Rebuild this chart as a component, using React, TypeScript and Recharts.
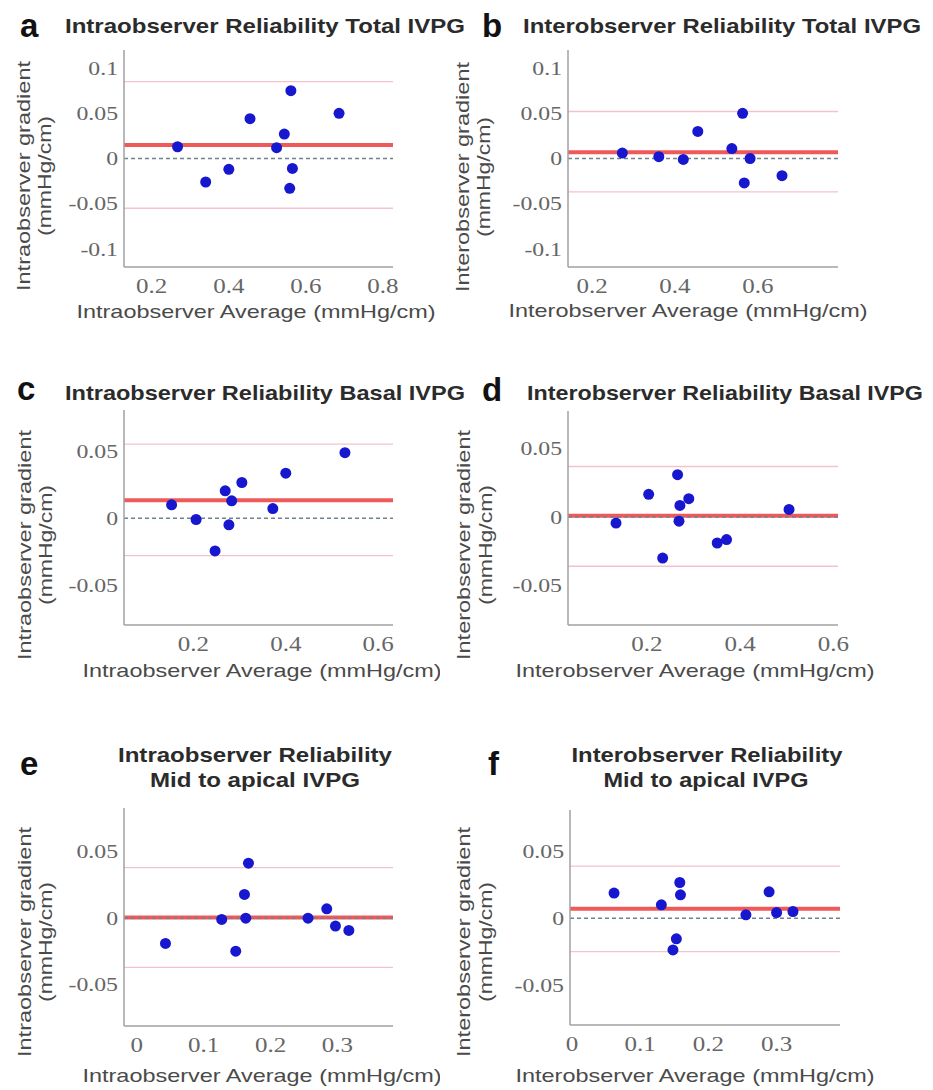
import { ReferenceLine, Scatter, ScatterChart, XAxis, YAxis } from "recharts";

// Bland-Altman panels: average (x) vs difference (y)
const aAvg = [0.267, 0.34, 0.4, 0.455, 0.524, 0.544, 0.561, 0.565, 0.558, 0.686];
const aDiff = [0.013, -0.026, -0.012, 0.044, 0.012, 0.027, 0.075, -0.011, -0.033, 0.05];
const bAvg = [0.273, 0.361, 0.42, 0.455, 0.537, 0.563, 0.581, 0.567, 0.658];
const bDiff = [0.006, 0.002, -0.001, 0.03, 0.011, 0.05, 0.0, -0.027, -0.019];
const cAvg = [0.153, 0.206, 0.247, 0.269, 0.283, 0.277, 0.305, 0.372, 0.4, 0.528];
const cDiff = [0.01, -0.001, -0.0245, 0.0205, 0.013, -0.005, 0.0267, 0.0072, 0.0337, 0.049];
const dAvg = [0.134, 0.204, 0.234, 0.266, 0.271, 0.29, 0.269, 0.351, 0.371, 0.505];
const dDiff = [-0.0044, 0.0166, -0.03, 0.031, 0.0085, 0.0134, -0.003, -0.019, -0.0165, 0.0056];
const eAvg = [0.043, 0.127, 0.148, 0.161, 0.167, 0.163, 0.256, 0.284, 0.297, 0.317];
const eDiff = [-0.019, -0.001, -0.0248, 0.0178, 0.0413, 0, 0, 0.007, -0.006, -0.0092];
const fAvg = [0.0616, 0.131, 0.158, 0.159, 0.153, 0.148, 0.255, 0.289, 0.3, 0.324];
const fDiff = [0.0188, 0.01, 0.0267, 0.0175, -0.0155, -0.0238, 0.0025, 0.0197, 0.0042, 0.005];

// lower limit, mean difference, upper limit
const aBands = [-0.055, 0.015, 0.085];
const bBands = [-0.037, 0.007, 0.052];
const cBands = [-0.028, 0.0135, 0.0555];
const dBands = [-0.036, 0.001, 0.037];
const eBands = [-0.037, 0.0005, 0.038];
const fBands = [-0.025, 0.007, 0.039];

const yTicksWide = [-0.1, -0.05, 0, 0.05, 0.1];
const yTicksNarrow = [-0.05, 0, 0.05];
const xTicksA = [0.2, 0.4, 0.6, 0.8];
const xTicksB = [0.2, 0.4, 0.6];
const xTicksMid = [0, 0.1, 0.2, 0.3];

const intraX = "Intraobserver Average (mmHg/cm)";
const interX = "Interobserver Average (mmHg/cm)";
const intraY = "Intraobserver gradient";
const interY = "Interobserver gradient";
const unitY = "(mmHg/cm)";

type Panel = {
  letter: string;
  title: string[];
  avg: number[];
  diff: number[];
  bands: number[];
  xTicks: number[];
  yTicks: number[];
  xDomain: [number, number];
  yDomain: [number, number];
  xLabel: string;
  yLabel: string;
  // layout (page px)
  left: number;
  top: number;
  w: number;
  h: number;
  x0: number;
  x1: number;
  y0: number;
  y1: number;
  xLabelCx: number;
  xLabelBase: number;
  yLabelCy: number;
  yBase1: number;
  yBase2: number;
  letterX: number;
  letterBase: number;
  titleX: number[];
  titleW: number[];
  titleBase: number[];
  titleAnchor: "start" | "middle";
};

const panels: Panel[] = [
  {
    letter: "a", title: ["Intraobserver Reliability Total IVPG"],
    avg: aAvg, diff: aDiff, bands: aBands, xTicks: xTicksA, yTicks: yTicksWide,
    xDomain: [0.128, 0.826], yDomain: [-0.12, 0.12], xLabel: intraX, yLabel: intraY,
    left: 0, top: 0, w: 440, h: 330, x0: 124, x1: 393, y0: 50, y1: 267,
    xLabelCx: 256, xLabelBase: 318, yLabelCy: 176, yBase1: 30, yBase2: 51,
    letterX: 20, letterBase: 37, titleX: [65], titleW: [400], titleBase: [33], titleAnchor: "start",
  },
  {
    letter: "b", title: ["Interobserver Reliability Total IVPG"],
    avg: bAvg, diff: bDiff, bands: bBands, xTicks: xTicksB, yTicks: yTicksWide,
    xDomain: [0.142, 0.793], yDomain: [-0.12, 0.12], xLabel: interX, yLabel: interY,
    left: 440, top: 0, w: 493, h: 330, x0: 568, x1: 838, y0: 50, y1: 267,
    xLabelCx: 688, xLabelBase: 317, yLabelCy: 177, yBase1: 469, yBase2: 490,
    letterX: 482, letterBase: 37, titleX: [523], titleW: [398], titleBase: [33], titleAnchor: "start",
  },
  {
    letter: "c", title: ["Intraobserver Reliability Basal IVPG"],
    avg: cAvg, diff: cDiff, bands: cBands, xTicks: xTicksB, yTicks: yTicksNarrow,
    xDomain: [0.05, 0.632], yDomain: [-0.08, 0.081], xLabel: intraX, yLabel: intraY,
    left: 0, top: 340, w: 440, h: 350, x0: 124, x1: 393, y0: 410, y1: 625,
    xLabelCx: 262, xLabelBase: 677, yLabelCy: 545, yBase1: 31, yBase2: 52,
    letterX: 17, letterBase: 400, titleX: [65], titleW: [400], titleBase: [400], titleAnchor: "start",
  },
  {
    letter: "d", title: ["Interobserver Reliability Basal IVPG"],
    avg: dAvg, diff: dDiff, bands: dBands, xTicks: xTicksB, yTicks: yTicksNarrow,
    xDomain: [0.031, 0.61], yDomain: [-0.079, 0.0776], xLabel: interX, yLabel: interY,
    left: 440, top: 340, w: 493, h: 350, x0: 568, x1: 838, y0: 411, y1: 625,
    xLabelCx: 695, xLabelBase: 677, yLabelCy: 545, yBase1: 470, yBase2: 492,
    letterX: 482, letterBase: 401, titleX: [527], titleW: [396], titleBase: [400], titleAnchor: "start",
  },
  {
    letter: "e", title: ["Intraobserver Reliability", "Mid to apical  IVPG"],
    avg: eAvg, diff: eDiff, bands: eBands, xTicks: xTicksMid, yTicks: yTicksNarrow,
    xDomain: [-0.019, 0.383], yDomain: [-0.081, 0.0827], xLabel: intraX, yLabel: intraY,
    left: 0, top: 700, w: 440, h: 390, x0: 124, x1: 393, y0: 808, y1: 1026,
    xLabelCx: 262, xLabelBase: 1082, yLabelCy: 942, yBase1: 31, yBase2: 52,
    letterX: 20, letterBase: 775, titleX: [255, 255], titleW: [274, 210], titleBase: [762, 787], titleAnchor: "middle",
  },
  {
    letter: "f", title: ["Interobserver Reliability", "Mid to apical IVPG"],
    avg: fAvg, diff: fDiff, bands: fBands, xTicks: xTicksMid, yTicks: yTicksNarrow,
    xDomain: [-0.003, 0.393], yDomain: [-0.08, 0.081], xLabel: interX, yLabel: interY,
    left: 440, top: 700, w: 493, h: 390, x0: 570, x1: 840, y0: 810, y1: 1025,
    xLabelCx: 695, xLabelBase: 1082, yLabelCy: 942, yBase1: 470, yBase2: 492,
    letterX: 488, letterBase: 775, titleX: [707, 706], titleW: [271, 205], titleBase: [762, 787], titleAnchor: "middle",
  },
];

const Y_AXIS_W = 70;
const X_AXIS_H = 30;
const STRETCH = 1.25;

function serifWidth(s: string) {
  let w = 0;
  for (const ch of s) w += ch === "." ? 0.25 : ch === "-" ? 0.333 : 0.5;
  return w;
}

function YTick({ x, y, payload }: any) {
  const label = String(payload.value);
  return (
    <text
      x={x}
      y={y}
      dy="0.35em"
      textAnchor="end"
      fontFamily="Liberation Serif"
      fontSize={19}
      fill="#666"
      textLength={serifWidth(label) * 19 * STRETCH}
      lengthAdjust="spacingAndGlyphs"
    >
      {label}
    </text>
  );
}

function XTick({ x, y, payload }: any) {
  const label = String(payload.value);
  return (
    <text
      x={x}
      y={y + 26}
      textAnchor="middle"
      fontFamily="Liberation Serif"
      fontSize={20}
      fill="#666"
      textLength={serifWidth(label) * 20 * STRETCH}
      lengthAdjust="spacingAndGlyphs"
    >
      {label}
    </text>
  );
}

function Dot(props: any) {
  if (typeof props.cx !== "number" || typeof props.cy !== "number") return <g />;
  return <circle cx={props.cx} cy={props.cy} r={5.5} fill="#1717cf" />;
}

function PanelChart({ p }: { p: Panel }) {
  const points = p.avg.map((x, i) => ({ x, y: p.diff[i] }));
  const [lower, mean, upper] = p.bands;

  const xLabel = () => (
    <text
      x={p.xLabelCx - p.left}
      y={p.xLabelBase - p.top}
      textAnchor="middle"
      fontFamily="Liberation Sans"
      fontSize={19}
      fill="#4a4a4a"
      textLength={359}
      lengthAdjust="spacingAndGlyphs"
    >
      {p.xLabel}
    </text>
  );

  const yLabel = () => {
    const cy = p.yLabelCy - p.top;
    const x1 = p.yBase1 - p.left;
    const x2 = p.yBase2 - p.left;
    return (
      <g fontFamily="Liberation Sans" fontSize={19} fill="#4a4a4a">
        <text
          x={x1}
          y={cy}
          textAnchor="middle"
          transform={`rotate(-90 ${x1} ${cy})`}
          textLength={230}
          lengthAdjust="spacingAndGlyphs"
        >
          {p.yLabel}
        </text>
        <text
          x={x2}
          y={cy}
          textAnchor="middle"
          transform={`rotate(-90 ${x2} ${cy})`}
          textLength={120}
          lengthAdjust="spacingAndGlyphs"
        >
          {unitY}
        </text>
      </g>
    );
  };

  return (
    <div style={{ position: "absolute", left: p.left, top: p.top }}>
      <ScatterChart
        width={p.w}
        height={p.h}
        margin={{
          top: p.y0 - p.top,
          right: p.left + p.w - p.x1,
          bottom: p.top + p.h - p.y1 - X_AXIS_H,
          left: p.x0 - p.left - Y_AXIS_W,
        }}
      >
        <XAxis
          type="number"
          dataKey="x"
          domain={p.xDomain}
          allowDataOverflow
          ticks={p.xTicks}
          interval={0}
          tick={<XTick />}
          tickLine={false}
          tickSize={0}
          tickMargin={0}
          height={X_AXIS_H}
          axisLine={{ stroke: "#a0a0a0", strokeWidth: 1.5 }}
          label={xLabel}
        />
        <YAxis
          type="number"
          dataKey="y"
          domain={p.yDomain}
          allowDataOverflow
          ticks={p.yTicks}
          interval={0}
          tick={<YTick />}
          tickLine={false}
          tickSize={0}
          tickMargin={6}
          width={Y_AXIS_W}
          axisLine={{ stroke: "#a0a0a0", strokeWidth: 1.5 }}
          label={yLabel}
        />
        <ReferenceLine y={upper} stroke="#f3c3cb" strokeWidth={1.3} />
        <ReferenceLine y={lower} stroke="#f3c3cb" strokeWidth={1.3} />
        <ReferenceLine y={mean} stroke="#ef5959" strokeWidth={4} />
        <ReferenceLine y={0} stroke="#6f8290" strokeWidth={1.5} strokeDasharray="4 3" />
        <Scatter data={points} shape={<Dot />} isAnimationActive={false} />
      </ScatterChart>
    </div>
  );
}

function Titles() {
  return (
    <svg
      width={933}
      height={1090}
      style={{ position: "absolute", left: 0, top: 0, pointerEvents: "none" }}
    >
      {panels.map((p) => (
        <g key={p.letter}>
          <text
            x={p.letterX}
            y={p.letterBase}
            fontFamily="Liberation Sans"
            fontWeight={700}
            fontSize={33}
            fill="#111"
          >
            {p.letter}
          </text>
          {p.title.map((line, i) => (
            <text
              key={line}
              x={p.titleX[i]}
              y={p.titleBase[i]}
              textAnchor={p.titleAnchor}
              fontFamily="Liberation Sans"
              fontWeight={700}
              fontSize={21}
              fill="#2b2b2b"
              textLength={p.titleW[i]}
              lengthAdjust="spacingAndGlyphs"
            >
              {line}
            </text>
          ))}
        </g>
      ))}
    </svg>
  );
}

export default function App() {
  return (
    <div
      style={{
        position: "absolute",
        left: 0,
        top: 0,
        width: 933,
        height: 1090,
        background: "#fff",
        overflow: "hidden",
      }}
    >
      {panels.map((p) => (
        <PanelChart key={p.letter} p={p} />
      ))}
      <Titles />
    </div>
  );
}
